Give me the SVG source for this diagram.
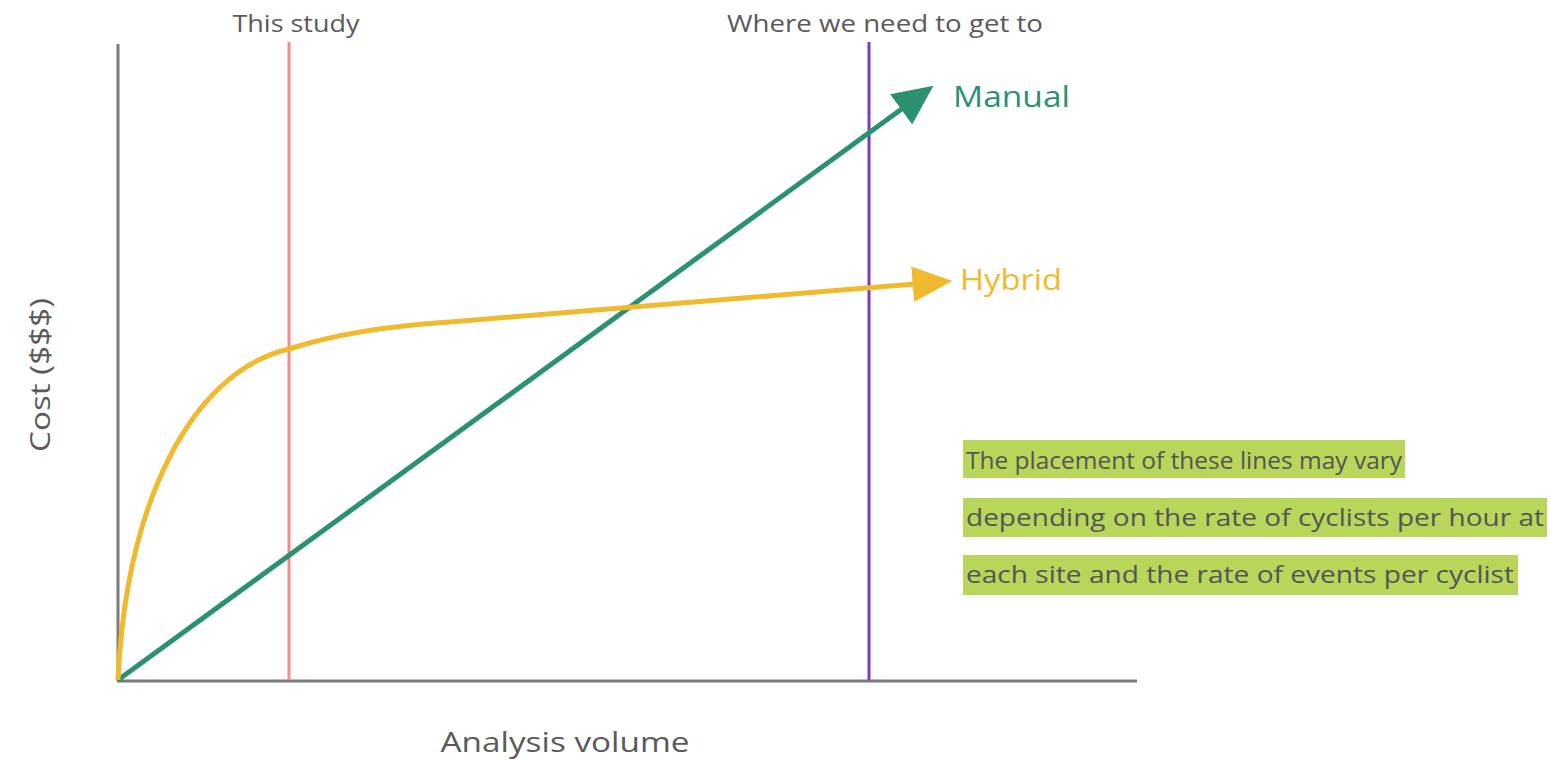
<svg xmlns="http://www.w3.org/2000/svg" width="1550" height="760" viewBox="0 0 1550 760">
<style>
.lbl{font-family:"Open Sans","Liberation Sans",sans-serif;fill:#5a5a5a}
.axis{stroke:#7a7a7a;stroke-width:3;fill:none}
.note{font-family:"Open Sans","Liberation Sans",sans-serif;fill:#555;font-size:24px}
.hl{fill:#b7d65a}
</style>
<defs>
<marker id="ag" markerUnits="userSpaceOnUse" markerWidth="40" markerHeight="40" viewBox="0 0 34 32" refX="2" refY="16" orient="auto">
<path d="M0,0 L34,16 L0,32 Z" fill="#2b9170"/>
</marker>
<marker id="ay" markerUnits="userSpaceOnUse" markerWidth="40" markerHeight="40" viewBox="0 0 34 30" refX="2" refY="15" orient="auto">
<path d="M0,0 L34,15 L0,30 Z" fill="#efba2f"/>
</marker>
</defs>
<rect width="1550" height="760" fill="#fff"/>
<g id="axes">
<line class="axis" x1="118" y1="44" x2="118" y2="681"/>
<line class="axis" x1="117" y1="681" x2="1137" y2="681"/>
</g>
<g id="this-study">
<line x1="289" y1="42" x2="289" y2="680" stroke="#f48a8c" stroke-width="3"/>
<text class="lbl" x="296" y="32" font-size="24" text-anchor="middle" textLength="127" lengthAdjust="spacingAndGlyphs">This study</text>
</g>
<g id="target">
<line x1="869" y1="42" x2="869" y2="680" stroke="#7b3db5" stroke-width="3"/>
<text class="lbl" x="885" y="32" font-size="24" text-anchor="middle" textLength="316" lengthAdjust="spacingAndGlyphs">Where we need to get to</text>
</g>
<g id="connectors">
<path id="manual-line" d="M118,680 L903,108" stroke="#2b9170" stroke-width="5" fill="none" marker-end="url(#ag)"/>
<path id="hybrid-line" d="M118,680 C126,505 190,372 289,349 C335,334 385,326 450,322 L915,284" stroke="#efba2f" stroke-width="5" fill="none" marker-end="url(#ay)"/>
</g>
<g id="manual-label">
<text x="953" y="107" font-family="Open Sans, Liberation Sans, sans-serif" font-size="30" fill="#2b9170" textLength="117" lengthAdjust="spacingAndGlyphs">Manual</text>
</g>
<g id="hybrid-label">
<text x="960" y="290" font-family="Open Sans, Liberation Sans, sans-serif" font-size="30" fill="#efba2f" textLength="102" lengthAdjust="spacingAndGlyphs">Hybrid</text>
</g>
<g id="y-label">
<text class="lbl" transform="translate(50,375) rotate(-90)" font-size="28" text-anchor="middle" textLength="154" lengthAdjust="spacingAndGlyphs">Cost ($$$)</text>
</g>
<g id="x-label">
<text class="lbl" x="565" y="752" font-size="28" text-anchor="middle" textLength="249" lengthAdjust="spacingAndGlyphs">Analysis volume</text>
</g>
<g id="note">
<rect class="hl" x="963" y="440" width="442" height="38"/>
<rect class="hl" x="963" y="498" width="584" height="39"/>
<rect class="hl" x="963" y="555" width="555" height="40"/>
<text class="note" x="966" y="469" textLength="436" lengthAdjust="spacingAndGlyphs">The placement of these lines may vary</text>
<text class="note" x="966" y="526" textLength="578" lengthAdjust="spacingAndGlyphs">depending on the rate of cyclists per hour at</text>
<text class="note" x="966" y="583" textLength="548" lengthAdjust="spacingAndGlyphs">each site and the rate of events per cyclist</text>
</g>
</svg>
